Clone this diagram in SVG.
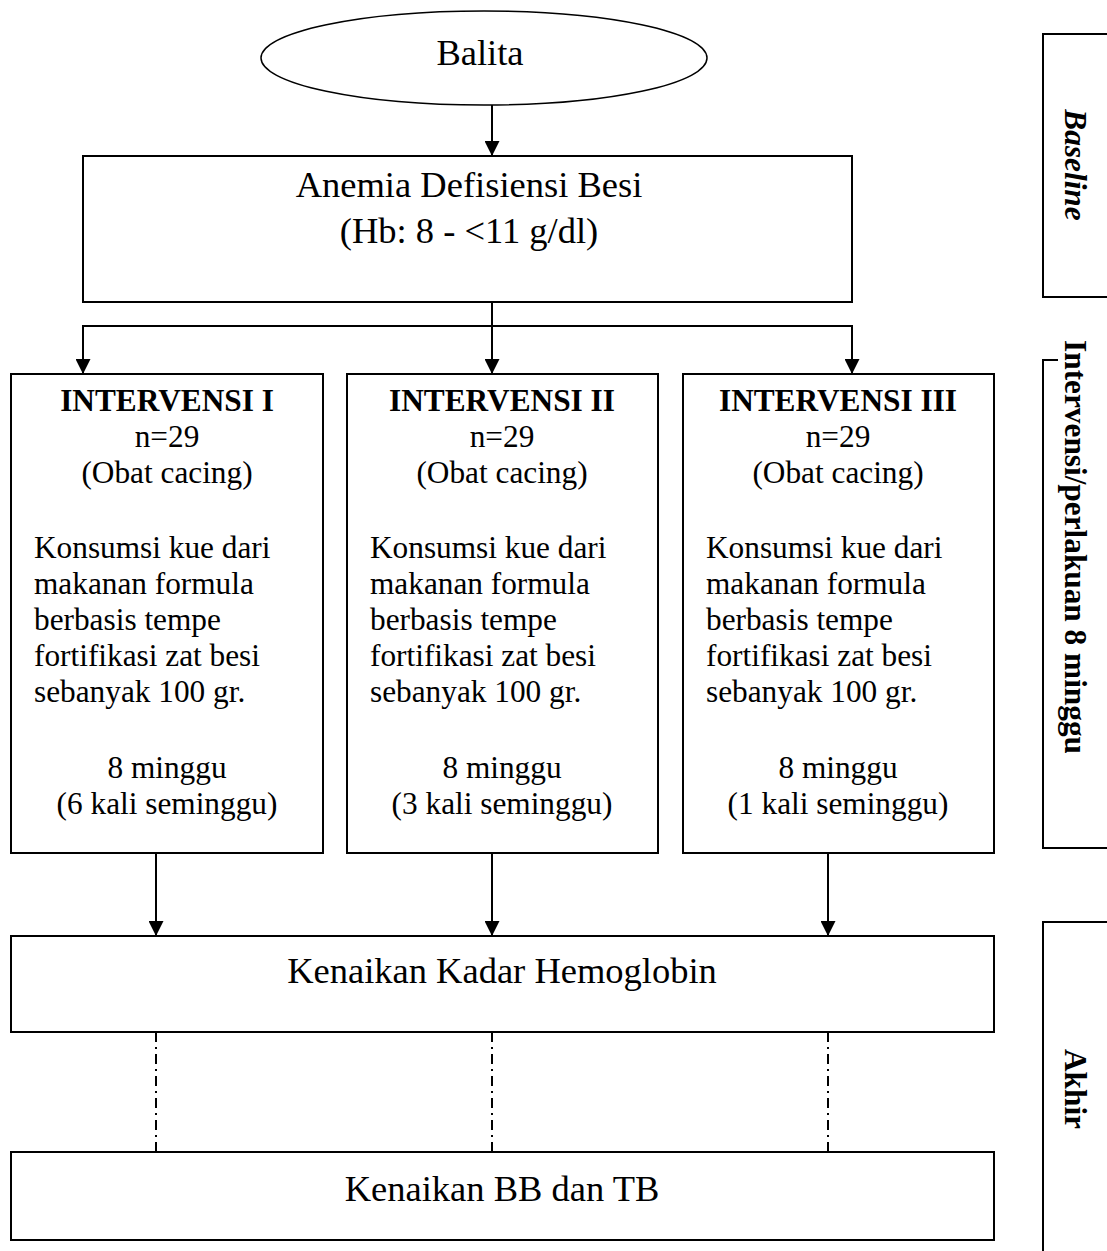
<svg xmlns="http://www.w3.org/2000/svg" width="1107" height="1251" viewBox="0 0 1107 1251">
<style>
.box{fill:#fff;stroke:#000;stroke-width:2}
.ln{fill:none;stroke:#000;stroke-width:2}
.dd{fill:none;stroke:#000;stroke-width:2;stroke-dasharray:10 5 2 5}
.big{font-family:"Liberation Serif","Times New Roman",serif;font-size:36.5px;fill:#000;text-anchor:middle}
.sm{font-family:"Liberation Serif","Times New Roman",serif;font-size:31.3px;fill:#000}
.c{text-anchor:middle}
.b{font-weight:bold}
.side{font-family:"Liberation Serif","Times New Roman",serif;font-size:31.3px;font-weight:bold;fill:#000;text-anchor:middle}
</style>
<defs>
<marker id="ah" markerWidth="15" markerHeight="15" refX="15" refY="7.5" orient="auto" markerUnits="userSpaceOnUse">
<path d="M0,0 L15,7.5 L0,15 Z" fill="#000"/>
</marker>
</defs>
<rect width="1107" height="1251" fill="#fff"/>

<g id="connectors">
<line class="ln" x1="492" y1="105" x2="492" y2="156" marker-end="url(#ah)"/>
<line class="ln" x1="83" y1="326" x2="852" y2="326"/>
<line class="ln" x1="492" y1="302" x2="492" y2="374" marker-end="url(#ah)"/>
<line class="ln" x1="83" y1="325" x2="83" y2="374" marker-end="url(#ah)"/>
<line class="ln" x1="852" y1="325" x2="852" y2="374" marker-end="url(#ah)"/>
<line class="ln" x1="156" y1="853" x2="156" y2="936" marker-end="url(#ah)"/>
<line class="ln" x1="492" y1="853" x2="492" y2="936" marker-end="url(#ah)"/>
<line class="ln" x1="828" y1="853" x2="828" y2="936" marker-end="url(#ah)"/>
<line class="dd" x1="156" y1="1032" x2="156" y2="1152"/>
<line class="dd" x1="492" y1="1032" x2="492" y2="1152"/>
<line class="dd" x1="828" y1="1032" x2="828" y2="1152"/>
</g>

<g id="balita">
<ellipse cx="484" cy="58" rx="223" ry="47" fill="#fff" stroke="#000" stroke-width="1.5"/>
<text class="big" x="480" y="65">Balita</text>
</g>

<g id="anemia">
<rect class="box" x="83" y="156" width="769" height="146"/>
<text class="big" x="469" y="197">Anemia Defisiensi Besi</text>
<text class="big" x="469" y="243">(Hb: 8 - &lt;11 g/dl)</text>
</g>

<g id="intervensi1">
<rect class="box" x="11" y="374" width="312" height="479"/>
<text class="sm c b" x="167" y="411">INTERVENSI I</text>
<text class="sm c" x="167" y="447">n=29</text>
<text class="sm c" x="167" y="483">(Obat cacing)</text>
<text class="sm" x="34" y="558">Konsumsi kue dari</text>
<text class="sm" x="34" y="594">makanan formula</text>
<text class="sm" x="34" y="630">berbasis tempe</text>
<text class="sm" x="34" y="666">fortifikasi zat besi</text>
<text class="sm" x="34" y="702">sebanyak 100 gr.</text>
<text class="sm c" x="167" y="778">8 minggu</text>
<text class="sm c" x="167" y="814">(6 kali seminggu)</text>
</g>

<g id="intervensi2">
<rect class="box" x="347" y="374" width="311" height="479"/>
<text class="sm c b" x="502" y="411">INTERVENSI II</text>
<text class="sm c" x="502" y="447">n=29</text>
<text class="sm c" x="502" y="483">(Obat cacing)</text>
<text class="sm" x="370" y="558">Konsumsi kue dari</text>
<text class="sm" x="370" y="594">makanan formula</text>
<text class="sm" x="370" y="630">berbasis tempe</text>
<text class="sm" x="370" y="666">fortifikasi zat besi</text>
<text class="sm" x="370" y="702">sebanyak 100 gr.</text>
<text class="sm c" x="502" y="778">8 minggu</text>
<text class="sm c" x="502" y="814">(3 kali seminggu)</text>
</g>

<g id="intervensi3">
<rect class="box" x="683" y="374" width="311" height="479"/>
<text class="sm c b" x="838" y="411">INTERVENSI III</text>
<text class="sm c" x="838" y="447">n=29</text>
<text class="sm c" x="838" y="483">(Obat cacing)</text>
<text class="sm" x="706" y="558">Konsumsi kue dari</text>
<text class="sm" x="706" y="594">makanan formula</text>
<text class="sm" x="706" y="630">berbasis tempe</text>
<text class="sm" x="706" y="666">fortifikasi zat besi</text>
<text class="sm" x="706" y="702">sebanyak 100 gr.</text>
<text class="sm c" x="838" y="778">8 minggu</text>
<text class="sm c" x="838" y="814">(1 kali seminggu)</text>
</g>

<g id="hemoglobin">
<rect class="box" x="11" y="936" width="983" height="96"/>
<text class="big" x="502" y="983">Kenaikan Kadar Hemoglobin</text>
</g>

<g id="bbtb">
<rect class="box" x="11" y="1152" width="983" height="88"/>
<text class="big" x="502" y="1201">Kenaikan BB dan TB</text>
</g>

<g id="phase-baseline">
<path class="ln" d="M1110,34 H1043 V297 H1110"/>
<text class="side" font-style="italic" transform="translate(1065,165) rotate(90)">Baseline</text>
</g>
<g id="phase-intervensi">
<path class="ln" d="M1110,360 H1043 V848 H1110"/>
<rect x="1058" y="332" width="49" height="432" fill="#fff"/>
<text class="side" transform="translate(1065,547) rotate(90)">Intervensi/perlakuan 8 minggu</text>
</g>
<g id="phase-akhir">
<path class="ln" d="M1110,922 H1043 V1260"/>
<text class="side" transform="translate(1065,1089) rotate(90)">Akhir</text>
</g>
</svg>
